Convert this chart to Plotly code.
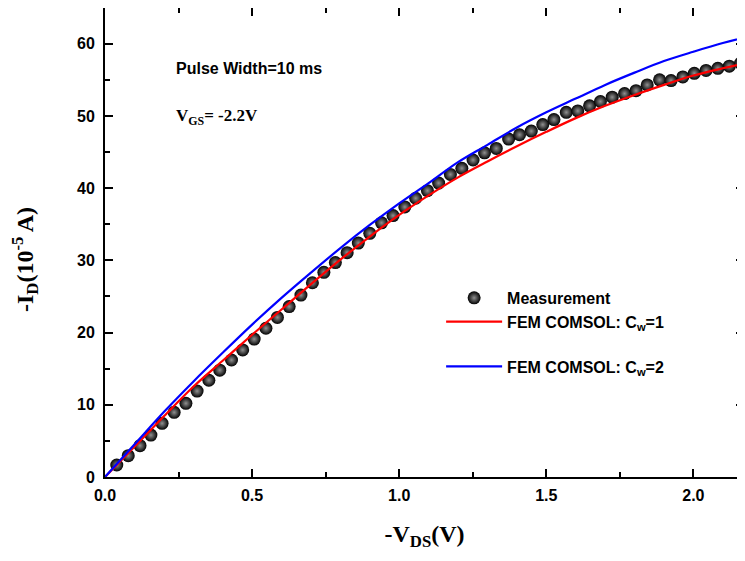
import plotly.graph_objects as go

# Measurement data (-V_DS in V, -I_D in 1e-5 A)
meas_v = [0.040, 0.079, 0.119, 0.156, 0.194, 0.235, 0.275, 0.313, 0.353, 0.390,
          0.430, 0.468, 0.507, 0.547, 0.586, 0.626, 0.666, 0.705, 0.744, 0.783,
          0.823, 0.861, 0.900, 0.940, 0.979, 1.019, 1.056, 1.096, 1.134, 1.174,
          1.213, 1.251, 1.290, 1.330, 1.372, 1.409, 1.449, 1.488, 1.526, 1.568,
          1.607, 1.647, 1.684, 1.724, 1.766, 1.805, 1.843, 1.885, 1.924, 1.964,
          2.003, 2.043, 2.083, 2.122, 2.160]
meas_i = [1.66, 2.95, 4.34, 5.8, 7.43, 8.95, 10.2, 11.9, 13.4, 14.8,
          16.2, 17.6, 19.1, 20.6, 22.1, 23.6, 25.2, 26.9, 28.35, 29.7,
          31.07, 32.4, 33.75, 35.2, 36.2, 37.4, 38.6, 39.65, 40.7, 41.9,
          42.75, 43.9, 44.9, 45.5, 46.8, 47.4, 47.9, 48.8, 49.5, 50.5,
          50.7, 51.4, 52.0, 52.6, 53.1, 53.5, 54.3, 55.0, 54.9, 55.4,
          55.9, 56.3, 56.6, 56.9, 57.3]

# Simulation curves
sim_v = [0, 0.1, 0.2, 0.3, 0.4, 0.5, 0.6, 0.7, 0.8, 0.9, 1.0, 1.1,
         1.2, 1.3, 1.4, 1.5, 1.6, 1.7, 1.8, 1.9, 2.0, 2.1, 2.2]
cw1_i = [0, 4.2, 8.4, 12.5, 16.1, 19.7, 23.2, 26.7, 30.1, 33.3, 36.3, 39.0,
         41.5, 43.7, 45.8, 47.8, 49.7, 51.4, 52.9, 54.3, 55.6, 56.6, 57.5]
cw2_i = [0, 4.5, 9.0, 13.2, 17.2, 21.1, 24.8, 28.3, 31.7, 34.9, 37.9, 40.7,
         43.6, 46.0, 48.4, 50.5, 52.4, 54.3, 56.0, 57.6, 58.9, 60.1, 61.1]

x_ticks = [0.0, 0.5, 1.0, 1.5, 2.0]
y_ticks = [0, 10, 20, 30, 40, 50, 60]

fig = go.Figure()
fig.add_trace(go.Scatter(
    x=meas_v, y=meas_i, mode="markers", name="Measurement", legendgroup="a",
    marker=dict(size=13, color="#000000", line=dict(width=0),
                gradient=dict(type="radial", color="#909090")),
))
fig.add_trace(go.Scatter(
    x=sim_v, y=cw1_i, mode="lines", name="FEM COMSOL: C<sub>w</sub>=1", legendgroup="a",
    line=dict(color="#ff0000", width=2.2, shape="spline"),
))
fig.add_trace(go.Scatter(
    x=sim_v, y=cw2_i, mode="lines", name="FEM COMSOL: C<sub>w</sub>=2", legendgroup="b",
    line=dict(color="#0000ff", width=2.2, shape="spline"),
))

tickfont = dict(family="Liberation Sans, Arial", size=16, color="black", weight="bold")
serif = "Liberation Serif, Times New Roman"

# page body has an 8px margin; figure is sized to fit inside the 745x561 window
fig.update_layout(
    width=737, height=553,
    margin=dict(l=97, r=1, t=0, b=84, autoexpand=False),
    paper_bgcolor="white", plot_bgcolor="white",
    showlegend=True,
    legend=dict(x=0.526, y=0.418, xanchor="left", yanchor="top",
                bgcolor="rgba(0,0,0,0)",
                font=dict(family="Liberation Sans, Arial", size=16, color="black", weight="bold"),
                tracegroupgap=21, itemwidth=56),
    xaxis=dict(range=[0, 2.172], tickvals=x_ticks, tickformat=".1f", automargin=False,
               showline=True, linewidth=2, linecolor="black", mirror="ticks",
               ticks="inside", ticklen=8, tickwidth=2, tickcolor="black",
               ticklabelstandoff=3,
               minor=dict(dtick=0.25, ticks="inside", ticklen=5, tickwidth=2, tickcolor="black"),
               showgrid=False, zeroline=False, tickfont=tickfont,
               title=dict(text="<b>-V<sub>DS</sub>(V)</b>",
                          font=dict(family=serif, size=24, color="black"), standoff=22)),
    yaxis=dict(range=[0, 64.95], tickvals=y_ticks, automargin=False,
               showline=True, linewidth=2, linecolor="black", mirror="ticks",
               ticks="inside", ticklen=8, tickwidth=2, tickcolor="black",
               ticklabelstandoff=5,
               minor=dict(dtick=5, ticks="inside", ticklen=5, tickwidth=2, tickcolor="black"),
               showgrid=False, zeroline=False, tickfont=tickfont),
    annotations=[
        dict(x=-0.125, y=0.463, xref="paper", yref="paper", xanchor="center", yanchor="middle",
             showarrow=False, textangle=-90,
             text="<b>-I<sub>D</sub>(10<sup>-5 </sup>A)</b>",
             font=dict(family=serif, size=24, color="black")),
        dict(x=0.108, y=0.870, xref="paper", yref="paper", xanchor="left", yanchor="middle",
             showarrow=False, text="<b>Pulse Width=10 ms</b>",
             font=dict(family="Liberation Sans, Arial", size=16, color="black")),
        dict(x=0.108, y=0.768, xref="paper", yref="paper", xanchor="left", yanchor="middle",
             showarrow=False, text="<b>V<sub>GS</sub>= -2.2V</b>",
             font=dict(family=serif, size=17, color="black")),
    ],
)

fig.write_html("out.html")
